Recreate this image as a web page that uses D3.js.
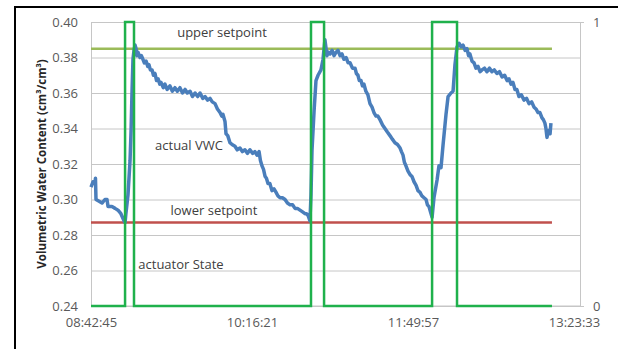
<!DOCTYPE html>
<html>
<head>
<meta charset="utf-8">
<script src="https://cdn.jsdelivr.net/npm/d3@7"></script>
<style>
  body { margin: 0; background: #fff; }
  svg { display: block; font-family: "Open Sans", sans-serif; }
</style>
</head>
<body>
<svg id="chart" width="618" height="349"></svg>
<script>
// minutes since 08:42:45
const xTickMin = [0, 93.6, 187.2, 280.8]
const xTickLabels = ["08:42:45", "10:16:21", "11:49:57", "13:23:33"]
const yTicks = [0.24, 0.26, 0.28, 0.30, 0.32, 0.34, 0.36, 0.38, 0.40]

const vwcMin = [0, 1.2, 2.3, 2.6, 2.9, 4.7, 6.4, 8.1, 9.3, 9.9, 12.2, 14.0, 15.7, 17.4, 19.2, 19.8,
	20.3, 21.5, 22.7, 23.3, 23.8, 24.4, 25.0,
	25.6, 26.2, 26.7, 27.3, 28.5, 29.3, 30.2, 31.0, 32.0, 33.0, 33.7, 34.5, 35.5, 36.3, 37.2, 38.1,
	39.0, 40.0, 40.7, 42.0, 43.0, 44.3, 45.9, 47.3, 48.8, 50.2, 51.7, 53.2, 54.7, 56.0, 57.6, 59.0,
	60.5, 62.0, 63.4, 65.0, 66.3, 67.8, 69.2, 70.5, 72.1, 73.5, 75.0, 76.0, 76.7, 77.9, 78.5, 79.5,
	80.8, 82.0, 83.7, 85.0, 86.6, 88.0, 89.5, 91.0, 92.4, 94.0, 95.3, 96.5, 97.7, 98.5, 99.4, 100.3,
	101.2, 102.0, 102.9, 104.0, 105.2, 106.4, 107.6, 108.7, 109.9, 111.3, 112.8, 114.2, 115.7, 117.2,
	118.6, 120.0, 121.5, 123.0, 124.4, 125.3, 126.2, 127.3,
	127.9, 128.5, 129.7, 130.8, 132.0, 133.7, 134.9,
	136.0, 137.2, 138.0, 139.0, 140.2, 141.3, 142.5, 143.6, 144.8, 145.9, 147.0, 148.3, 149.5, 150.6,
	152.0, 153.5, 154.3, 155.2, 156.0, 157.0, 157.8, 158.7, 159.8, 161.0, 162.2, 163.4, 164.5, 165.7,
	166.8, 168.0, 169.5, 170.9, 172.3, 173.8, 175.2, 176.7, 178.2, 179.7, 180.5, 181.4, 182.2, 183.1,
	184.3, 185.5, 186.6, 187.8, 189.0, 190.1, 191.3, 192.4, 193.6, 194.8, 195.6, 196.5, 197.4, 198.3,
	199.4, 201.2, 202.3, 203.5, 204.7, 206.4, 207.6, 209.3, 210.5, 211.6, 212.8,
	214.0, 215.2, 216.3, 217.5, 218.6, 219.5, 220.3, 221.5, 222.7, 223.8, 225.0, 226.2, 227.3, 228.8,
	230.2, 231.7, 233.1, 234.5, 236.0, 237.5, 239.0, 240.5, 241.9, 243.0, 244.2, 245.3, 246.5, 247.6,
	248.8, 250.2, 251.7, 253.2, 254.7, 256.2, 257.6, 258.7, 259.9, 261.0, 262.2, 263.0, 263.9, 264.5,
	265.1, 265.7, 266.3, 266.9, 267.4]
const vwcVal = [0.307, 0.310, 0.309, 0.312, 0.300, 0.299, 0.298, 0.300, 0.300, 0.296, 0.296, 0.295, 0.294, 0.292, 0.288, 0.287,
	0.292, 0.3025, 0.322, 0.339, 0.359, 0.379, 0.384,
	0.387, 0.385, 0.381, 0.383, 0.380, 0.381, 0.379, 0.377, 0.378, 0.375, 0.376, 0.373, 0.373, 0.370, 0.371, 0.367,
	0.368, 0.365, 0.366, 0.363, 0.365, 0.362, 0.364, 0.361, 0.363, 0.361, 0.363, 0.360, 0.362, 0.360, 0.361, 0.358,
	0.360, 0.358, 0.360, 0.357, 0.358, 0.356, 0.357, 0.355, 0.354, 0.351, 0.349, 0.347, 0.348, 0.344, 0.337, 0.336,
	0.332, 0.331, 0.330, 0.328, 0.329, 0.327, 0.328, 0.326, 0.328, 0.326, 0.327, 0.325, 0.327, 0.322, 0.319, 0.317,
	0.313, 0.312, 0.309, 0.309, 0.305, 0.306, 0.304, 0.302, 0.301, 0.301, 0.300, 0.298, 0.297, 0.297,
	0.295, 0.295, 0.294, 0.293, 0.292, 0.292, 0.291, 0.288,
	0.3025, 0.328, 0.350, 0.367, 0.370, 0.373, 0.379,
	0.390, 0.381, 0.383, 0.382, 0.384, 0.381, 0.383, 0.384, 0.381, 0.382, 0.379, 0.380, 0.377, 0.377,
	0.374, 0.374, 0.371, 0.370, 0.367, 0.367, 0.364, 0.365, 0.361, 0.359, 0.354, 0.352, 0.349, 0.347,
	0.347, 0.345, 0.342, 0.340, 0.338, 0.336, 0.334, 0.332, 0.331, 0.329, 0.327, 0.325, 0.321, 0.319,
	0.316, 0.314, 0.313, 0.310, 0.308, 0.305, 0.304, 0.302, 0.301, 0.300, 0.297, 0.296, 0.293, 0.290,
	0.301, 0.311, 0.319, 0.318, 0.331, 0.348, 0.358, 0.360, 0.361, 0.376, 0.386,
	0.388, 0.386, 0.387, 0.384, 0.385, 0.381, 0.382, 0.378, 0.377, 0.374, 0.375, 0.372, 0.373, 0.374,
	0.372, 0.374, 0.372, 0.373, 0.371, 0.372, 0.369, 0.370, 0.367, 0.368, 0.365, 0.366, 0.362, 0.362,
	0.358, 0.359, 0.356, 0.357, 0.354, 0.355, 0.352, 0.351, 0.349, 0.349, 0.346, 0.345, 0.343, 0.340,
	0.335, 0.338, 0.339, 0.337, 0.343]

const upperSetpoint = 0.385
const lowerSetpoint = 0.287
const setpointMin = [0, 268]

const actMin = [0, 19.8, 25.0, 127.9, 135.5, 198.3, 212.8, 268]
const actState = [0, 1, 0, 1, 0, 1, 0, 0]

const labels = [
	{text: "upper setpoint", x: 222, y: 37},
	{text: "actual VWC", x: 189, y: 150},
	{text: "lower setpoint", x: 214, y: 215},
	{text: "actuator State", x: 181, y: 269}
]

const svg = d3.select("#chart")
const plotL = 91, plotR = 580, plotT = 22, plotB = 306

const x = d3.scaleLinear().domain([0, 284.3]).range([plotL, plotR])
const y = d3.scaleLinear().domain([0.24, 0.40]).range([plotB, plotT])
const yState = d3.scaleLinear().domain([0, 1]).range([plotB, plotT])

// frame
svg.append("path")
	.attr("d", "M15,349V7H618")
	.attr("fill", "none")
	.attr("stroke", "#000")
	.attr("stroke-width", 2)

// grid
svg.append("g")
	.attr("transform", `translate(${plotL},0)`)
	.call(d3.axisLeft(y).tickValues(yTicks).tickSize(-(plotR - plotL)).tickFormat(""))
	.call(g => g.select(".domain").remove())
	.call(g => g.selectAll("line").attr("stroke", "#c6c6c6"))

// left axis
svg.append("g")
	.attr("transform", `translate(${plotL},0)`)
	.call(d3.axisLeft(y).tickValues(yTicks).tickSize(0).tickPadding(13).tickFormat(d3.format(".2f")))
	.call(g => g.select(".domain").attr("stroke", "#c6c6c6"))
	.call(g => g.selectAll("text").attr("fill", "#595959").attr("font-size", 13).attr("font-family", "Open Sans"))

// right axis
svg.append("g")
	.attr("transform", `translate(${plotR},0)`)
	.call(d3.axisRight(yState).tickValues([0, 1]).tickSize(4).tickPadding(9).tickFormat(d3.format("d")))
	.call(g => g.selectAll(".domain, line").attr("stroke", "#c6c6c6"))
	.call(g => g.selectAll("text").attr("fill", "#595959").attr("font-size", 13).attr("font-family", "Open Sans"))

// x axis
svg.append("g")
	.attr("transform", `translate(0,${plotB})`)
	.call(d3.axisBottom(x).tickValues(xTickMin).tickSize(0).tickPadding(12)
		.tickFormat((d, i) => xTickLabels[i]))
	.call(g => g.select(".domain").attr("stroke", "#c6c6c6").attr("d", `M${plotL},0H${plotR}`))
	.call(g => g.selectAll("text").attr("fill", "#595959").attr("font-size", 13).attr("font-family", "Open Sans"))

// y title
svg.append("text")
	.attr("transform", `translate(46,164) rotate(-90)`)
	.attr("text-anchor", "middle")
	.attr("font-size", 11.5)
	.attr("font-weight", "bold")
	.attr("fill", "#262626")
	.text("Volumetric Water Content (cm³/cm³)")

// setpoints
const flat = d3.line().x(d => x(d[0])).y(d => y(d[1]))
svg.append("path")
	.datum(setpointMin.map(m => [m, lowerSetpoint]))
	.attr("d", flat)
	.attr("fill", "none")
	.attr("stroke", "#c0504d")
	.attr("stroke-width", 2.5)
svg.append("path")
	.datum(setpointMin.map(m => [m, upperSetpoint]))
	.attr("d", flat)
	.attr("fill", "none")
	.attr("stroke", "#9bbb59")
	.attr("stroke-width", 2.5)

// actual VWC
svg.append("path")
	.datum(vwcMin.map((m, i) => [m, vwcVal[i]]))
	.attr("d", flat)
	.attr("fill", "none")
	.attr("stroke", "#4a7ebb")
	.attr("stroke-width", 3.5)
	.attr("stroke-linejoin", "round")

// actuator state
svg.append("path")
	.datum(actMin.map((m, i) => [m, actState[i]]))
	.attr("d", d3.line().x(d => x(d[0])).y(d => yState(d[1])).curve(d3.curveStepAfter))
	.attr("fill", "none")
	.attr("stroke", "#1fb14c")
	.attr("stroke-width", 2.5)

// annotations
svg.append("g")
	.selectAll("text")
	.data(labels)
	.join("text")
	.attr("x", d => d.x)
	.attr("y", d => d.y)
	.attr("text-anchor", "middle")
	.attr("font-size", 13)
	.attr("fill", "#404040")
	.text(d => d.text)
</script>
</body>
</html>
